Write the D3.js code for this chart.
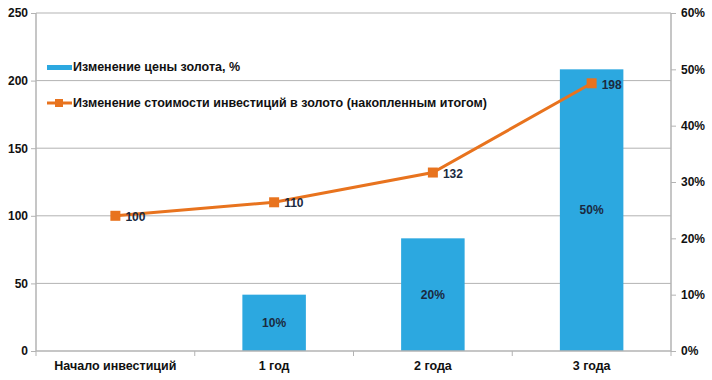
<!DOCTYPE html>
<html>
<head>
<meta charset="utf-8">
<script src="https://cdn.jsdelivr.net/npm/d3@7"></script>
<style>
  body { margin: 0; background: #fff; }
  text { font-family: "Liberation Sans", Arial, sans-serif; font-weight: bold; }
</style>
</head>
<body>
<div id="chart"></div>
<script>
// chart data
var categories = ["Начало инвестиций", "1 год", "2 года", "3 года"];
var priceChange = [null, 10, 20, 50];          // bars, right axis (%)
var investValue = [100, 110, 132, 198];        // line, left axis
var leftTicks = [0, 50, 100, 150, 200, 250];
var rightTicks = [0, 10, 20, 30, 40, 50, 60];
var legendLabels = ["Изменение цены золота, %", "Изменение стоимости инвестиций в золото (накопленным итогом)"];

var width = 712, height = 380;
var margin = {top: 13, right: 41, bottom: 29, left: 36};
var w = width - margin.left - margin.right;
var h = height - margin.top - margin.bottom;

var barColor = "#2ca8e0", lineColor = "#e8731e", gridColor = "#b3b3b3";

var svg = d3.select("#chart").append("svg")
    .attr("width", width)
    .attr("height", height);

var g = svg.append("g")
    .attr("transform", "translate(" + margin.left + "," + margin.top + ")");

// scales
var x = d3.scaleBand().domain(categories).range([0, w]).paddingInner(0).paddingOuter(0);
var yLeft = d3.scaleLinear().domain([0, 250]).range([h, 0]);
var yRight = d3.scaleLinear().domain([0, 60]).range([h, 0]);
var barW = x.bandwidth() * 0.4;

// gridlines from left axis
g.selectAll(".grid").data(leftTicks.filter(function(d) { return d > 0; }))
  .enter().append("line")
    .attr("x1", 0).attr("x2", w)
    .attr("y1", function(d) { return yLeft(d); })
    .attr("y2", function(d) { return yLeft(d); })
    .attr("stroke", gridColor).attr("stroke-width", 1);

// bars
var barData = categories.map(function(c, i) { return {cat: c, v: priceChange[i]}; })
  .filter(function(d) { return d.v != null; });

g.selectAll(".bar").data(barData)
  .enter().append("rect")
    .attr("x", function(d) { return x(d.cat) + (x.bandwidth() - barW) / 2; })
    .attr("y", function(d) { return yRight(d.v); })
    .attr("width", barW)
    .attr("height", function(d) { return h - yRight(d.v); })
    .attr("fill", barColor);

g.selectAll(".barlabel").data(barData)
  .enter().append("text")
    .attr("x", function(d) { return x(d.cat) + x.bandwidth() / 2; })
    .attr("y", function(d) { return (yRight(d.v) + h) / 2; })
    .attr("dy", "0.35em")
    .attr("text-anchor", "middle")
    .attr("font-size", 12)
    .attr("fill", "#1b2a3f")
    .text(function(d) { return d.v + "%"; });

// axes
var axL = g.append("g")
    .call(d3.axisLeft(yLeft).tickValues(leftTicks).tickSize(5).tickPadding(3));
var axR = g.append("g")
    .attr("transform", "translate(" + w + ",0)")
    .call(d3.axisRight(yRight).tickValues(rightTicks).tickSize(5).tickPadding(5)
      .tickFormat(function(d) { return d + "%"; }));
var axB = g.append("g")
    .attr("transform", "translate(0," + h + ")")
    .call(d3.axisBottom(x).tickSize(0).tickPadding(10));

// category boundary ticks
axB.selectAll(".sep").data(d3.range(categories.length + 1))
  .enter().append("line")
    .attr("x1", function(i) { return i * x.step(); })
    .attr("x2", function(i) { return i * x.step(); })
    .attr("y1", 0).attr("y2", 5)
    .attr("stroke", gridColor);

[axL, axR, axB].forEach(function(a) {
  a.selectAll(".domain").attr("stroke", gridColor).attr("stroke-width", 1.5);
  a.selectAll(".tick line").attr("stroke", gridColor);
  a.selectAll("text").attr("font-size", 12).attr("fill", "#111")
    .style("font-family", "'Liberation Sans', Arial, sans-serif").style("font-weight", "bold");
});
axL.select(".domain").attr("d", "M0," + h + "V0");
axR.select(".domain").attr("d", "M0," + h + "V0");
axB.select(".domain").attr("d", "M0,0H" + w);
axB.selectAll(".tick text").attr("font-size", 12.5);

// line
var lineData = categories.map(function(c, i) { return {cat: c, v: investValue[i]}; });
var line = d3.line()
    .x(function(d) { return x(d.cat) + x.bandwidth() / 2; })
    .y(function(d) { return yLeft(d.v); });

g.append("path").datum(lineData)
    .attr("d", line)
    .attr("fill", "none")
    .attr("stroke", lineColor)
    .attr("stroke-width", 3);

g.selectAll(".marker").data(lineData)
  .enter().append("rect")
    .attr("x", function(d) { return x(d.cat) + x.bandwidth() / 2 - 5; })
    .attr("y", function(d) { return yLeft(d.v) - 5; })
    .attr("width", 10).attr("height", 10)
    .attr("fill", lineColor);

g.selectAll(".linelabel").data(lineData)
  .enter().append("text")
    .attr("x", function(d) { return x(d.cat) + x.bandwidth() / 2 + 10; })
    .attr("y", function(d) { return yLeft(d.v) + 1; })
    .attr("dy", "0.35em")
    .attr("font-size", 12)
    .attr("fill", "#1b2a3f")
    .text(function(d) { return d.v; });

// legend
var lg = svg.append("g").attr("transform", "translate(47,67)");
lg.append("rect").attr("x", 0).attr("y", -2).attr("width", 25).attr("height", 5).attr("fill", barColor);
lg.append("text").attr("x", 26).attr("y", 0).attr("dy", "0.35em").attr("font-size", 12.5)
  .attr("fill", "#111").text(legendLabels[0]);

var lg2 = svg.append("g").attr("transform", "translate(47,103)");
lg2.append("line").attr("x1", 0).attr("x2", 25).attr("y1", 0).attr("y2", 0)
  .attr("stroke", lineColor).attr("stroke-width", 3);
lg2.append("rect").attr("x", 8).attr("y", -4).attr("width", 8).attr("height", 8).attr("fill", lineColor);
lg2.append("text").attr("x", 26).attr("y", 0).attr("dy", "0.35em").attr("font-size", 12.5)
  .attr("fill", "#111").text(legendLabels[1]);
</script>
</body>
</html>
